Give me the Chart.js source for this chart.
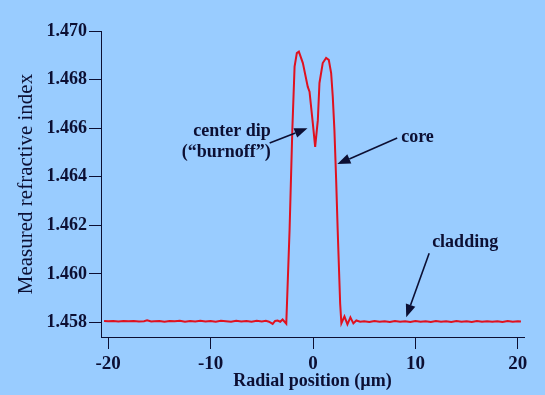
<!DOCTYPE html>
<html>
<head>
<meta charset="utf-8">
<script src="https://cdn.jsdelivr.net/npm/chart.js@4"></script>
<style>
  html, body { margin: 0; padding: 0; background: #99ccff; }
  #wrap { width: 545px; height: 395px; }
</style>
</head>
<body>
<div id="wrap"><canvas id="profileChart" width="545" height="395"></canvas></div>
<script>
// radial position (um) and measured refractive index
const radialPos = [
  -20.4, -20.0, -19.5, -19.0, -18.5, -18.0, -17.5, -17.0, -16.5, -16.2, -15.8, -15.5, -15.0, -14.5,
  -14.0, -13.5, -13.0, -12.5, -12.0, -11.5, -11.0, -10.5, -10.0, -9.5, -9.0, -8.5, -8.0,
  -7.5, -7.0, -6.5, -6.0, -5.5, -5.0, -4.6, -4.3, -3.94, -3.7, -3.46, -3.2, -2.97, -2.61,
  -2.29, -2.02, -1.80, -1.58, -1.38, -0.99, -0.51, -0.34, -0.02, 0.21, 0.47, 0.63, 0.95,
  1.28, 1.54, 1.77, 1.93, 2.09, 2.26, 2.41, 2.65, 2.77, 3.07, 3.36, 3.65, 3.94, 4.23,
  4.6, 5.0, 5.5, 6.0, 6.5, 7.0, 7.5, 8.0, 8.5, 9.0, 9.5, 10.0, 10.5, 11.0, 11.5, 12.0,
  12.5, 13.0, 13.5, 14.0, 14.5, 15.0, 15.5, 16.0, 16.5, 17.0, 17.5, 18.0, 18.5, 19.0,
  19.5, 20.0, 20.3
];
const refIndex = [
  1.45806, 1.45805, 1.45806, 1.45804, 1.45806, 1.45805, 1.45806, 1.45804, 1.45805, 1.45809, 1.45804, 1.45805, 1.45806, 1.45803,
  1.45806, 1.45805, 1.45807, 1.45803, 1.45806, 1.45804, 1.45807, 1.45804, 1.45806, 1.45803, 1.45807, 1.45805, 1.45803,
  1.45807, 1.45804, 1.45806, 1.45803, 1.45807, 1.45804, 1.45807, 1.45803, 1.45794, 1.45806, 1.45808, 1.45803, 1.45812, 1.45795,
  1.46179, 1.46592, 1.46853, 1.46909, 1.46915, 1.46868, 1.46770, 1.46750, 1.46621, 1.46523, 1.46633, 1.46786, 1.46868,
  1.46889, 1.46881, 1.46827, 1.46729, 1.46592, 1.46386, 1.46179, 1.45878, 1.45796, 1.45825, 1.45792, 1.45821, 1.45796, 1.45808,
  1.45803, 1.45805, 1.45802, 1.45806, 1.45803, 1.45805, 1.45802, 1.45806, 1.45803, 1.45805, 1.45802, 1.45806, 1.45803, 1.45805, 1.45802, 1.45806,
  1.45803, 1.45805, 1.45802, 1.45806, 1.45803, 1.45805, 1.45802, 1.45806, 1.45803, 1.45805, 1.45803, 1.45805, 1.45802, 1.45806,
  1.45803, 1.45805, 1.45804
];
const xTicks = [-20, -10, 0, 10, 20];
const yTicks = [1.458, 1.460, 1.462, 1.464, 1.466, 1.468, 1.470];

// annotation labels and arrows, in data units
const noteText = [
  { lines: ['center dip', '(\u201cburnoff\u201d)'], x: -4.13, y: 1.46585, align: 'right' },
  { lines: ['core'], x: 8.61, y: 1.46563, align: 'left' },
  { lines: ['cladding'], x: 11.63, y: 1.46131, align: 'left' }
];
const noteArrows = [
  { from: [-4.23, 1.46539], to: [-0.54, 1.46600] },
  { from: [8.22, 1.46559], to: [2.38, 1.46452] },
  { from: [11.34, 1.46085], to: [9.10, 1.45821] }
];

const ink = '#0c0f33';
const serif = '"Liberation Serif", "DejaVu Serif", serif';

const notesPlugin = {
  id: 'notes',
  afterDatasetsDraw(chart) {
    const { ctx, scales: { x, y } } = chart;
    ctx.save();
    ctx.fillStyle = ink;
    ctx.strokeStyle = ink;
    ctx.font = 'bold 18px ' + serif;
    ctx.textBaseline = 'middle';
    noteText.forEach(n => {
      ctx.textAlign = n.align;
      n.lines.forEach((line, i) => {
        ctx.fillText(line, x.getPixelForValue(n.x), y.getPixelForValue(n.y) + i * 21);
      });
    });
    ctx.lineWidth = 1.6;
    noteArrows.forEach(a => {
      const x0 = x.getPixelForValue(a.from[0]), y0 = y.getPixelForValue(a.from[1]);
      const x1 = x.getPixelForValue(a.to[0]), y1 = y.getPixelForValue(a.to[1]);
      const ang = Math.atan2(y1 - y0, x1 - x0);
      const len = 13, half = 5;
      const bx = x1 - len * Math.cos(ang), by = y1 - len * Math.sin(ang);
      ctx.beginPath();
      ctx.moveTo(x0, y0);
      ctx.lineTo(bx, by);
      ctx.stroke();
      ctx.beginPath();
      ctx.moveTo(x1, y1);
      ctx.lineTo(bx + half * Math.sin(ang), by - half * Math.cos(ang));
      ctx.lineTo(bx - half * Math.sin(ang), by + half * Math.cos(ang));
      ctx.closePath();
      ctx.fill();
    });
    ctx.restore();
  }
};

new Chart(document.getElementById('profileChart'), {
  type: 'line',
  data: {
    datasets: [{
      data: radialPos.map((v, i) => ({ x: v, y: refIndex[i] })),
      borderColor: '#e0111f',
      borderWidth: 2,
      pointRadius: 0,
      tension: 0,
      fill: false
    }]
  },
  options: {
    responsive: false,
    animation: false,
    layout: { padding: { top: 31, right: 21, left: 0, bottom: 0 } },
    plugins: { legend: { display: false }, tooltip: { enabled: false } },
    scales: {
      x: {
        type: 'linear',
        min: -20.7,
        max: 20.6,
        afterBuildTicks: axis => { axis.ticks = xTicks.map(v => ({ value: v })); },
        afterFit: axis => { axis.height = 58; },
        grid: { drawOnChartArea: false, drawTicks: true, tickLength: 12, color: ink },
        border: { color: ink, width: 1 },
        ticks: { color: ink, font: { family: serif, size: 19, weight: 'bold' }, padding: 4, maxRotation: 0 },
        title: { display: true, text: 'Radial position (\u00b5m)', color: ink, padding: { top: 0, bottom: 3 },
                 font: { family: serif, size: 18, weight: 'bold' } }
      },
      y: {
        min: 1.4574,
        max: 1.470,
        afterBuildTicks: axis => { axis.ticks = yTicks.map(v => ({ value: v })); },
        afterFit: axis => { axis.width = 101; },
        grid: { drawOnChartArea: false, drawTicks: true, tickLength: 12, color: ink },
        border: { color: ink, width: 1 },
        ticks: { color: ink, font: { family: serif, size: 18, weight: 'bold' }, padding: 2,
                 callback: v => v.toFixed(3) },
        title: { display: true, text: 'Measured refractive index', color: ink, padding: { top: 14, bottom: 0 },
                 font: { family: serif, size: 21 } }
      }
    }
  },
  plugins: [notesPlugin]
});
</script>
</body>
</html>
